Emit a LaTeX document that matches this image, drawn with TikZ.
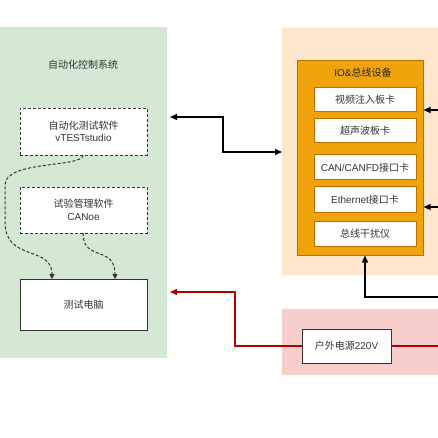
\documentclass[tikz,border=0pt]{standalone}
\usepackage{fontspec}
\setmainfont{Liberation Sans}
\newfontfamily\cjk{Noto Sans CJK SC}
\newfontfamily\latf{Liberation Sans}
\usetikzlibrary{arrows.meta}
\definecolor{grn}{HTML}{D5E8D4}
\definecolor{org}{HTML}{FFE6CC}
\definecolor{orgin}{HTML}{F0A30A}
\definecolor{orgd}{HTML}{BD7000}
\definecolor{rpan}{HTML}{F8CECC}
\definecolor{rln}{HTML}{B20000}
\definecolor{txt}{HTML}{333333}
\tikzset{
  dbox/.style={draw=black!80, densely dashed, fill=white, inner sep=0pt, line width=0.9pt},
  sbox/.style={draw=black!80, fill=white, inner sep=0pt, line width=0.9pt},
  card/.style={draw=orgd, fill=white, inner sep=0pt, line width=1pt, minimum width=102pt, minimum height=24pt},
  lbl/.style={font=\cjk\fontsize{10}{12.5}\selectfont, text=txt, align=center},
  blk/.style={draw=black, line width=1.3pt, -{Triangle[length=7pt,width=6pt]}},
  red/.style={draw=rln, line width=1.3pt, -{Triangle[length=7pt,width=6pt]}},
  dsh/.style={draw=black!80, densely dashed, line width=1pt, -{Triangle[length=5pt,width=5pt]}}
}
\begin{document}
\begin{tikzpicture}[x=1pt,y=-1pt]
\useasboundingbox (0,0) rectangle (438,438);
\fill[white] (0,0) rectangle (438,438);
% panels
\fill[grn] (0,27) rectangle (167,358);
\fill[org] (282,28) rectangle (438,275);
\fill[rpan] (282,309) rectangle (438,375);
\node[lbl] (gtitle) at (83,65) {自动化控制系统};
% green boxes
\node[dbox, minimum width=127pt, minimum height=47pt] (vts) at (83.5,131.5) {};
\node[lbl] at (vts) {自动化测试软件\\{\latf vTESTstudio}};
\node[dbox, minimum width=127pt, minimum height=46pt] (cano) at (83.5,210) {};
\node[lbl] at (cano) {试验管理软件\\{\latf CANoe}};
\node[sbox, minimum width=127pt, minimum height=51pt] (pc) at (83.5,304.5) {};
\node[lbl] at (pc) {测试电脑};
% dashed curves
\coordinate (p1) at (52,279);
\coordinate (p2) at (115,279);
\draw[dsh] (83,155) .. controls (83,168) and (5,160) .. (5,185) -- (5,222) .. controls (5,262) and (52,245) .. (p1);
\draw[dsh] (83,233) .. controls (83,262) and (115,245) .. (p2);
% IO box
\node[draw=orgd, fill=orgin, line width=1pt, minimum width=126pt, minimum height=194pt, inner sep=0pt] (io) at (360,158) {};
\node[lbl, text=black!85] (iot) at (363,73) {{\latf IO\&}总线设备};
\node[card] (c1) at (365,100) {};
\node[lbl] at (c1) {视频注入板卡};
\node[card] (c2) at (365,131) {};
\node[lbl] at (c2) {超声波板卡};
\node[card, minimum height=25pt] (c3) at (365,167.5) {};
\node[lbl] at (c3) {{\latf CAN/CANFD}接口卡};
\node[card, minimum height=25pt] (c4) at (365,199.5) {};
\node[lbl] at (c4) {{\latf Ethernet}接口卡};
\node[card, minimum height=25pt] (c5) at (365,233.5) {};
\node[lbl] at (c5) {总线干扰仪};
% power box
\node[sbox, minimum width=89pt, minimum height=34pt] (pwr) at (346.5,346) {};
\node[lbl] at (pwr) {户外电源{\latf 220V}};
% connectors
\coordinate (gr1) at (170,117);
\coordinate (or1) at (282,152);
\draw[blk, {Triangle[length=7pt,width=6pt]}-{Triangle[length=7pt,width=6pt]}] (gr1) -- (223,117) -- (223,152) -- (or1);
\coordinate (re1) at (438,110);
\coordinate (re2) at (438,207);
\coordinate (re3) at (438,297);
\draw[blk] (re1) -- (io.east |- re1);
\draw[blk] (re2) -- (io.east |- re2);
\draw[blk] (re3) -- (365,297) -- (io.south -| 365,0);
\coordinate (gr2) at (170,292);
\draw[red] (pwr.west) -- (235,346) -- (235,292) -- (gr2);
\coordinate (re4) at (438,346);
\draw[draw=rln, line width=1.3pt] (pwr.east) -- (re4);
\end{tikzpicture}
\end{document}
